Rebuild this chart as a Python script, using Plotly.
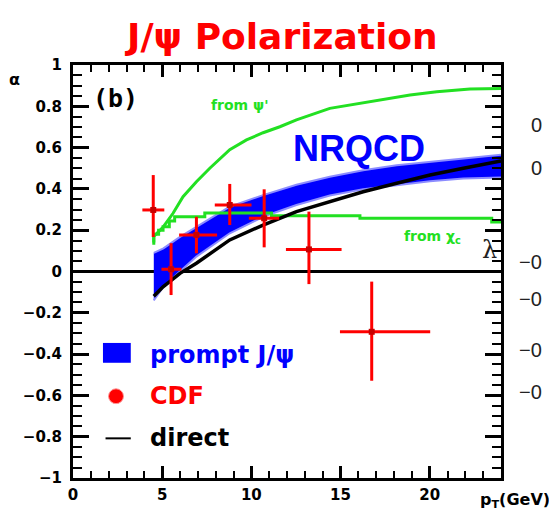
import plotly.graph_objects as go

# ---------------- data ----------------
pt_cdf = [4.50, 5.50, 6.92, 8.79, 10.72, 13.23, 16.75]
alpha_cdf = [0.298, 0.011, 0.177, 0.322, 0.258, 0.107, -0.292]
alpha_err_up = [0.169, 0.126, 0.088, 0.102, 0.140, 0.183, 0.243]
alpha_err_dn = [0.131, 0.125, 0.089, 0.097, 0.141, 0.168, 0.237]
pt_err_lo = [0.61, 0.54, 0.97, 0.84, 0.86, 1.29, 1.78]
pt_err_hi = [0.62, 0.58, 1.16, 1.22, 0.84, 1.83, 3.28]

band_pt = [4.53, 5.07, 6.00, 6.92, 8.79, 10.66, 12.53, 14.40, 16.27, 18.15, 20.02, 21.89, 24.0]
band_upper = [0.09, 0.112, 0.168, 0.217, 0.314, 0.370, 0.420, 0.459, 0.490, 0.515, 0.530, 0.545, 0.565]
band_lower = [-0.14, -0.074, 0.000, 0.072, 0.185, 0.265, 0.322, 0.368, 0.398, 0.418, 0.437, 0.450, 0.455]

direct_pt = [4.53, 5.05, 6.00, 6.92, 8.79, 10.66, 12.53, 14.40, 16.27, 18.15, 20.02, 21.89, 23.76, 24.0]
direct_alpha = [-0.12, -0.074, -0.009, 0.040, 0.153, 0.225, 0.290, 0.338, 0.386, 0.427, 0.467, 0.500, 0.532, 0.535]

psi2s_pt = [4.53, 4.53, 5.07, 5.61, 6.17, 6.92, 7.67, 8.05, 8.79, 9.73, 10.66, 11.60, 12.53, 14.40, 16.65, 18.90, 20.40, 22.26, 24.0]
psi2s_alpha = [0.14, 0.17, 0.217, 0.282, 0.362, 0.435, 0.500, 0.532, 0.590, 0.637, 0.672, 0.701, 0.734, 0.790, 0.822, 0.855, 0.871, 0.884, 0.886]

chic_pt = [4.53, 4.53, 4.80, 5.05, 5.40, 5.70, 7.39, 11.13, 16.09, 23.48, 24.0]
chic_alpha = [0.13, 0.18, 0.20, 0.217, 0.245, 0.265, 0.283, 0.270, 0.258, 0.240, 0.240]

x_ticks = [0, 5, 10, 15, 20]
y_ticks = [-1, -0.8, -0.6, -0.4, -0.2, 0, 0.2, 0.4, 0.6, 0.8, 1]
y_tick_text = ["\u22121", "\u22120.8", "\u22120.6", "\u22120.4", "\u22120.2", "0", "0.2", "0.4", "0.6", "0.8", "1"]

side_labels = ["0", "0", "\u22120", "\u22120", "\u22120", "\u22120"]

# ---------------- styles ----------------
BLUE = "#0000ff"
EDGE = "#8c8cff"
GREEN = "#22e022"
RED = "#ff0000"
TICKFONT = "DejaVu Sans"

fig = go.Figure()

# NRQCD prompt band
fig.add_trace(go.Scatter(x=band_pt, y=band_lower, mode="lines",
                         line=dict(color=EDGE, width=2), showlegend=False, hoverinfo="skip"))
fig.add_trace(go.Scatter(x=band_pt, y=band_upper, mode="lines", fill="tonexty",
                         fillcolor=BLUE, line=dict(color=EDGE, width=2),
                         showlegend=False, hoverinfo="skip"))

# green curves
fig.add_trace(go.Scatter(x=psi2s_pt, y=psi2s_alpha, mode="lines",
                         line=dict(color=GREEN, width=3), showlegend=False))
fig.add_trace(go.Scatter(x=chic_pt, y=chic_alpha, mode="lines", line_shape="hv",
                         line=dict(color=GREEN, width=3), showlegend=False))

# direct
fig.add_trace(go.Scatter(x=direct_pt, y=direct_alpha, mode="lines",
                         line=dict(color="black", width=3.5), showlegend=False))

# CDF points
fig.add_trace(go.Scatter(
    x=pt_cdf, y=alpha_cdf, mode="markers",
    marker=dict(symbol="square", size=6, color="#c80000"),
    error_y=dict(type="data", array=alpha_err_up, arrayminus=alpha_err_dn,
                 color=RED, thickness=3, width=0),
    error_x=dict(type="data", array=pt_err_hi, arrayminus=pt_err_lo,
                 color=RED, thickness=3, width=0),
    showlegend=False))

annotations = [
    dict(text="<b>J/\u03c8 Polarization</b>", xref="paper", yref="paper", x=0.486, y=1.07,
         xanchor="center", yanchor="middle", showarrow=False,
         font=dict(family="DejaVu Sans", size=36, color=RED)),
    dict(text="<b>NRQCD</b>", xref="paper", yref="paper", x=0.668, y=0.797,
         xanchor="center", yanchor="middle", showarrow=False,
         font=dict(family="Liberation Sans", size=36, color=BLUE)),
    dict(text="<b>(b)</b>", xref="paper", yref="paper", x=0.100, y=0.92,
         xanchor="center", yanchor="middle", showarrow=False,
         font=dict(family="DejaVu Sans Mono", size=25, color="black")),
    dict(text="<b>from \u03c8'</b>", xref="paper", yref="paper", x=0.318, y=0.902,
         xanchor="left", yanchor="middle", showarrow=False,
         font=dict(family="DejaVu Sans", size=14, color=GREEN)),
    dict(text="<b>from \u03c7<sub>c</sub></b>", xref="paper", yref="paper", x=0.768, y=0.583,
         xanchor="left", yanchor="middle", showarrow=False,
         font=dict(family="DejaVu Sans", size=14, color=GREEN)),
    dict(text="\u03bb", xref="paper", yref="paper", x=0.974, y=0.552,
         xanchor="center", yanchor="middle", showarrow=False,
         font=dict(family="DejaVu Serif", size=24, color="#222222")),
    dict(text="<b>\u03b1</b>", xref="paper", yref="paper", x=-0.137, y=0.966,
         xanchor="center", yanchor="middle", showarrow=False,
         font=dict(family="DejaVu Sans", size=16, color="black")),
    dict(text="<b>p<sub>T</sub>(GeV)</b>", xref="paper", yref="paper", x=1.118, y=-0.054,
         xanchor="right", yanchor="middle", showarrow=False,
         font=dict(family="DejaVu Sans", size=16, color="black")),
    # legend texts
    dict(text="<b>prompt J/\u03c8</b>", xref="paper", yref="paper", x=0.175, y=0.297,
         xanchor="left", yanchor="middle", showarrow=False,
         font=dict(family="DejaVu Sans", size=24, color=BLUE)),
    dict(text="<b>CDF</b>", xref="paper", yref="paper", x=0.175, y=0.198,
         xanchor="left", yanchor="middle", showarrow=False,
         font=dict(family="DejaVu Sans", size=24, color=RED)),
    dict(text="<b>direct</b>", xref="paper", yref="paper", x=0.175, y=0.096,
         xanchor="left", yanchor="middle", showarrow=False,
         font=dict(family="DejaVu Sans", size=24, color="black")),
]

# cropped labels of the neighbouring panel
side_y = [0.854, 0.750, 0.522, 0.433, 0.310, 0.208]
for lab, yy in zip(side_labels, side_y):
    annotations.append(dict(text=lab, xref="paper", yref="paper", x=1.10, y=yy,
                            xanchor="right", yanchor="middle", showarrow=False,
                            font=dict(family="Liberation Sans", size=20, color="#222222")))

shapes = [
    # legend keys
    dict(type="rect", xref="paper", yref="paper", x0=0.070, x1=0.135, y0=0.279, y1=0.327,
         fillcolor=BLUE, line=dict(width=0)),
    dict(type="circle", xref="paper", yref="paper", x0=0.083, x1=0.118, y0=0.180, y1=0.216,
         fillcolor=RED, line=dict(color="#ff9a9a", width=1)),
    dict(type="line", xref="paper", yref="paper", x0=0.076, x1=0.135, y0=0.096, y1=0.096,
         line=dict(color="black", width=2)),
]

axis_common = dict(showline=True, linecolor="black", linewidth=3, mirror="ticks",
                   ticks="inside", tickcolor="black", tickwidth=2.5, showgrid=False,
                   tickfont=dict(family=TICKFONT, size=15, color="black", weight="bold"))

fig.update_layout(
    width=549, height=512,
    margin=dict(l=65, r=56, t=57, b=42),
    paper_bgcolor="white", plot_bgcolor="white",
    showlegend=False,
    annotations=annotations,
    shapes=shapes,
    xaxis=dict(range=[0, 24], tickvals=x_ticks, ticklen=12, zeroline=False,
               minor=dict(dtick=1, ticklen=7, ticks="inside", tickcolor="black", tickwidth=2),
               ticklabelstandoff=1, **axis_common),
    yaxis=dict(range=[-1, 1], tickvals=y_ticks, ticktext=y_tick_text, ticklen=16,
               zeroline=True, zerolinecolor="black", zerolinewidth=3,
               minor=dict(dtick=0.05, ticklen=9, ticks="inside", tickcolor="black", tickwidth=2),
               ticklabelstandoff=5, **axis_common),
)

fig.write_html("out.html")
